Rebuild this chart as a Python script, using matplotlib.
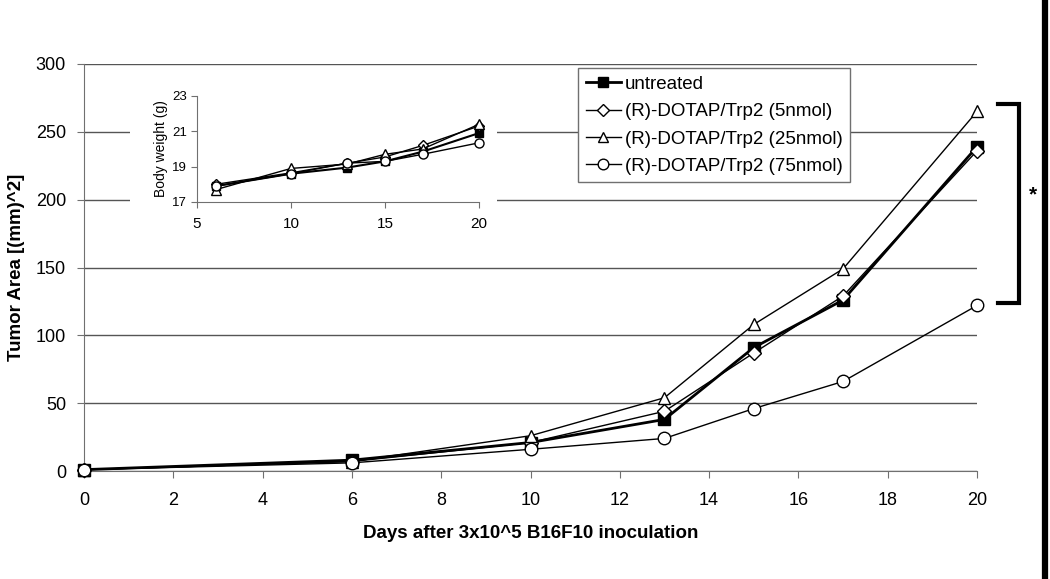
import matplotlib
matplotlib.use("Agg")
import matplotlib.pyplot as plt
from matplotlib.lines import Line2D
from matplotlib.patches import Rectangle

plt.rcParams['font.family'] = ['Liberation Sans', 'DejaVu Sans']

days = [0, 6, 10, 13, 15, 17, 20]
untreated = [1, 8, 21, 38, 91, 126, 239]
dotap5 = [1, 7, 21, 44, 87, 129, 236]
dotap25 = [1, 7, 26, 54, 108, 149, 265]
dotap75 = [1, 6, 16, 24, 46, 66, 122]

labels = ['untreated', '(R)-DOTAP/Trp2 (5nmol)', '(R)-DOTAP/Trp2 (25nmol)',
          '(R)-DOTAP/Trp2 (75nmol)']

bw_days = [6, 10, 13, 15, 17, 20]
bw_untreated = [17.9, 18.6, 18.95, 19.3, 19.85, 20.9]
bw_dotap5 = [18.0, 18.65, 19.2, 19.55, 20.2, 21.3]
bw_dotap25 = [17.7, 18.9, 19.15, 19.7, 20.0, 21.4]
bw_dotap75 = [17.9, 18.6, 19.2, 19.3, 19.7, 20.35]

xticks_main = list(range(0, 21, 2))
yticks_main = list(range(0, 301, 50))
xticks_in = [5, 10, 15, 20]
yticks_in = [17, 19, 21, 23]

GRID = '#555555'
SPINE = '#707070'

styles = [
    dict(marker='s', mfc='black', mec='black', lw=2.0, ms=8),
    dict(marker='D', mfc='white', mec='black', lw=1.0, ms=7),
    dict(marker='^', mfc='white', mec='black', lw=1.0, ms=9),
    dict(marker='o', mfc='white', mec='black', lw=1.0, ms=9),
]

fig = plt.figure(figsize=(10.5, 5.79), dpi=100)
ax = fig.add_axes([84/1050, 1-471/579, 893/1050, 407/579])

series = [untreated, dotap5, dotap25, dotap75]
for vals, st, lab in zip(series, styles, labels):
    ax.plot(days, vals, color='black', label=lab, zorder=3, clip_on=False, **st)

ax.set_xlim(0, 20)
ax.set_ylim(0, 300)
ax.set_xticks(xticks_main)
ax.set_yticks(yticks_main)
ax.grid(axis='y', color=GRID, lw=1)
ax.set_axisbelow(True)
for s in ['top', 'right']:
    ax.spines[s].set_visible(False)
for s in ['left', 'bottom']:
    ax.spines[s].set_color(SPINE)
ax.tick_params(axis='both', colors=SPINE, labelcolor='black', labelsize=13,
               length=5, direction='out')
ax.tick_params(axis='x', pad=10)
ax.tick_params(axis='y', pad=8)
ax.set_ylabel('Tumor Area [(mm)^2]', fontsize=13.5, fontweight='bold', labelpad=8)
ax.set_xlabel('Days after 3x10^5 B16F10 inoculation', fontsize=13.5,
              fontweight='bold', labelpad=12)

leg = ax.legend(loc='upper left', bbox_to_anchor=((578-84)/893, (471-68)/407),
                fontsize=13.5, frameon=True, fancybox=False, edgecolor=SPINE,
                framealpha=1, borderpad=0.4, labelspacing=0.55, handlelength=1.9,
                handletextpad=0.2, borderaxespad=0)
leg.get_frame().set_linewidth(1)
for h in leg.legend_handles:
    h.set_markersize(h.get_markersize() * 0.85)

# white backdrop behind inset
fig.add_artist(Rectangle((130/1050, 1-262/579), (497-130)/1050, (262-75)/579,
                         transform=fig.transFigure, facecolor='white',
                         edgecolor='none', zorder=2))

axi = fig.add_axes([197/1050, 1-202/579, 282/1050, 106/579], zorder=5)
bw_series = [bw_untreated, bw_dotap5, bw_dotap25, bw_dotap75]
small = [dict(marker='s', mfc='black', mec='black', lw=1.5, ms=5.5),
         dict(marker='D', mfc='white', mec='black', lw=1.0, ms=5.5),
         dict(marker='^', mfc='white', mec='black', lw=1.0, ms=6.5),
         dict(marker='o', mfc='white', mec='black', lw=1.0, ms=6.5)]
for vals, st in zip(bw_series, small):
    axi.plot(bw_days, vals, color='black', clip_on=False, **st)
axi.set_xlim(5, 20)
axi.set_ylim(17, 23)
axi.set_xticks(xticks_in)
axi.set_yticks(yticks_in)
for s in ['top', 'right']:
    axi.spines[s].set_visible(False)
for s in ['left', 'bottom']:
    axi.spines[s].set_color(SPINE)
axi.tick_params(axis='both', colors=SPINE, labelcolor='black',
                length=4, direction='out')
axi.tick_params(axis='x', labelsize=11, pad=7)
axi.tick_params(axis='y', labelsize=9.5, pad=3)
axi.set_ylabel('Body weight (g)', fontsize=10, labelpad=3)

# significance bracket
def fx(px):
    return px/1050
def fy(py):
    return 1-py/579
fig.add_artist(Line2D([fx(998), fx(1019), fx(1019), fx(998)],
                      [fy(104), fy(104), fy(303), fy(303)],
                      color='black', lw=3, solid_joinstyle='miter'))
fig.text(fx(1033), fy(195), '*', fontsize=15, fontweight='bold',
         ha='center', va='center')
# right border line
fig.add_artist(Line2D([fx(1045), fx(1045)], [0, 1], color='black', lw=4.5))

fig.savefig('out.png', dpi=100)
